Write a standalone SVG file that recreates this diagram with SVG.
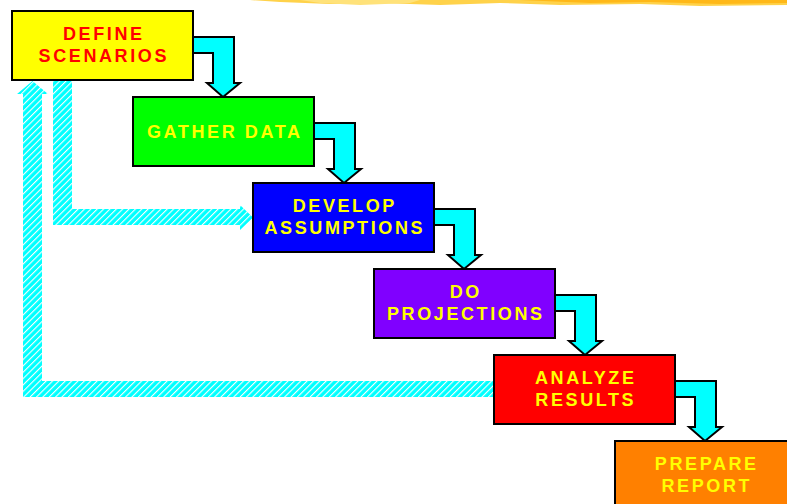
<svg xmlns="http://www.w3.org/2000/svg" width="787" height="504" viewBox="0 0 787 504">
<style>
.box{stroke:#000;stroke-width:2}
.arr{fill:#00FFFF;stroke:#000;stroke-width:2;stroke-linejoin:miter}
.hatch{fill:url(#hp)}
.t{font-family:"Liberation Sans",Arial,sans-serif;font-weight:bold;font-size:18px;letter-spacing:2.6px;text-anchor:middle}
.y{fill:#FFFF00}
.r{fill:#FF0000}
</style>
<defs>
<pattern id="hp" patternUnits="userSpaceOnUse" width="4.5" height="4.5" patternTransform="rotate(45)">
<rect width="4.5" height="4.5" fill="#00FFFF"/>
<rect x="0" y="0" width="1.1" height="4.5" fill="#FFFFFF"/>
</pattern>
</defs>
<g id="decor">
<polygon points="250,0 787,0 787,5 700,6 640,4 560,5 500,3 440,5 380,3 330,4 280,2" fill="#FFD24A"/>
<polygon points="520,0 787,0 787,3 720,4 650,2 590,3" fill="#FFB818"/>
<polygon points="300,0 420,0 410,3 360,5 320,3" fill="#FFE27A"/>
</g>
<g id="connectors">
<polygon class="hatch" points="32.5,81 48,94 42,94 42,381 494,381 494,397 23,397 23,94 17,94"/>
<polygon class="hatch" points="53,80 72,80 72,209 240,209 240,205 253,217.5 240,230 240,225 53,225"/>
<polygon class="arr" points="193,37 234,37 234,83 240,83 223,97 207,83 213,83 213,53 193,53"/>
<polygon class="arr" points="314,123 355,123 355,169 361,169 344,183 328,169 334,169 334,139 314,139"/>
<polygon class="arr" points="434,209 475,209 475,255 481,255 464,269 448,255 454,255 454,225 434,225"/>
<polygon class="arr" points="555,295 596,295 596,341 602,341 585,355 569,341 575,341 575,311 555,311"/>
<polygon class="arr" points="675,381 716,381 716,427 722,427 705,441 689,427 695,427 695,397 675,397"/>
</g>
<g id="define">
<rect class="box" x="12" y="11" width="181" height="69" fill="#FFFF00"/>
<text class="t r" x="103.8" y="40">DEFINE</text>
<text class="t r" x="103.8" y="62">SCENARIOS</text>
</g>
<g id="gather">
<rect class="box" x="133" y="97" width="181" height="69" fill="#00FF00"/>
<text class="t y" x="224.8" y="138">GATHER DATA</text>
</g>
<g id="develop">
<rect class="box" x="253" y="183" width="181" height="69" fill="#0000FF"/>
<text class="t y" x="344.8" y="212">DEVELOP</text>
<text class="t y" x="344.8" y="234">ASSUMPTIONS</text>
</g>
<g id="projections">
<rect class="box" x="374" y="269" width="181" height="69" fill="#8000FF"/>
<text class="t y" x="465.8" y="298">DO</text>
<text class="t y" x="465.8" y="320">PROJECTIONS</text>
</g>
<g id="analyze">
<rect class="box" x="494" y="355" width="181" height="69" fill="#FF0000"/>
<text class="t y" x="585.8" y="384">ANALYZE</text>
<text class="t y" x="585.8" y="406">RESULTS</text>
</g>
<g id="report">
<rect class="box" x="615" y="441" width="181" height="69" fill="#FF8000"/>
<text class="t y" x="706.8" y="470">PREPARE</text>
<text class="t y" x="706.8" y="492">REPORT</text>
</g>
</svg>
